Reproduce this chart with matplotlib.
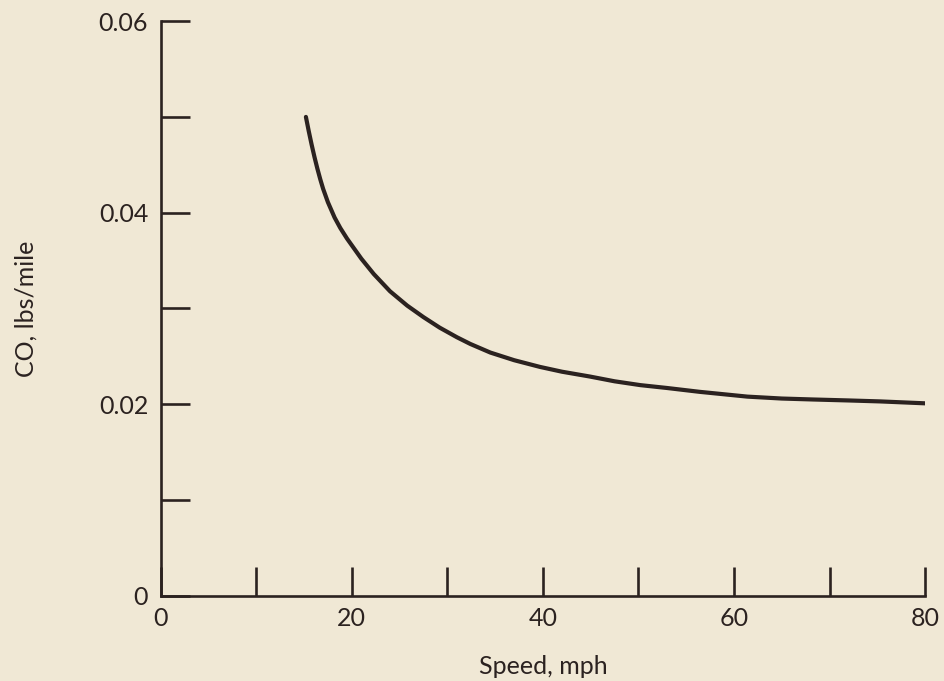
import matplotlib
matplotlib.use("Agg")
import matplotlib.pyplot as plt

# ─── data ────────────────────────────────────────────────────────────────────
SPEED = [15.2, 15.5, 15.8, 16.1, 16.4, 16.7, 17.0, 17.5, 18.2, 18.8, 19.5, 20.0,
         21.0, 22.3, 24.0, 25.8, 27.5, 29.2, 31.0, 32.4, 34.5, 37.0, 39.7, 42.0,
         44.9, 47.5, 50.2, 53.0, 56.4, 61.4, 65.0, 68.3, 72.0, 75.3, 80.0]
CO = [0.0500, 0.0485, 0.0471, 0.0458, 0.0446, 0.0435, 0.0425, 0.0411, 0.0395,
      0.0384, 0.0373, 0.0366, 0.0352, 0.0336, 0.0318, 0.0303, 0.0291, 0.0280,
      0.0270, 0.0263, 0.0254, 0.0246, 0.0239, 0.0234, 0.0229, 0.0224, 0.0220,
      0.0217, 0.0213, 0.0208, 0.0206, 0.0205, 0.0204, 0.0203, 0.0201]

X_MAJOR = [0, 20, 40, 60, 80]
X_MINOR = [10, 30, 50, 70]
Y_MAJOR = [0, 0.02, 0.04, 0.06]
Y_LABELS = ["0", "0.02", "0.04", "0.06"]
Y_MINOR = [0.01, 0.03, 0.05]

C_BG = "#F0E8D5"
C_INK = "#2B2220"

plt.rcParams["font.family"] = ["Lato", "DejaVu Sans"]

fig = plt.figure(figsize=(9.45, 6.81), dpi=100, facecolor=C_BG)
ax = fig.add_axes([0.170, 0.125, 0.809, 0.844])
ax.set_facecolor(C_BG)

ax.plot(SPEED, CO, color=C_INK, linewidth=3.0,
        solid_capstyle="round", solid_joinstyle="round")

ax.set_xlim(0, 80)
ax.set_ylim(0, 0.06)

ax.spines[["top", "right"]].set_visible(False)
for s in ("left", "bottom"):
    ax.spines[s].set_color(C_INK)
    ax.spines[s].set_linewidth(1.9)

ax.set_xticks(X_MAJOR)
ax.set_xticklabels([str(v) for v in X_MAJOR])
ax.set_xticks(X_MINOR, minor=True)
ax.set_yticks(Y_MAJOR)
ax.set_yticklabels(Y_LABELS)
ax.set_yticks(Y_MINOR, minor=True)

ax.tick_params(axis="both", which="both", direction="in", length=21,
               width=1.9, color=C_INK, labelcolor=C_INK, labelsize=18)
ax.tick_params(axis="y", which="both", pad=9)
ax.tick_params(axis="x", which="both", pad=8)

ax.set_xlabel("Speed, mph", fontsize=18, color=C_INK, labelpad=18)
ax.set_ylabel("CO, lbs/mile", fontsize=18, color=C_INK, labelpad=44)

fig.savefig("out.png", dpi=100, facecolor=C_BG)
